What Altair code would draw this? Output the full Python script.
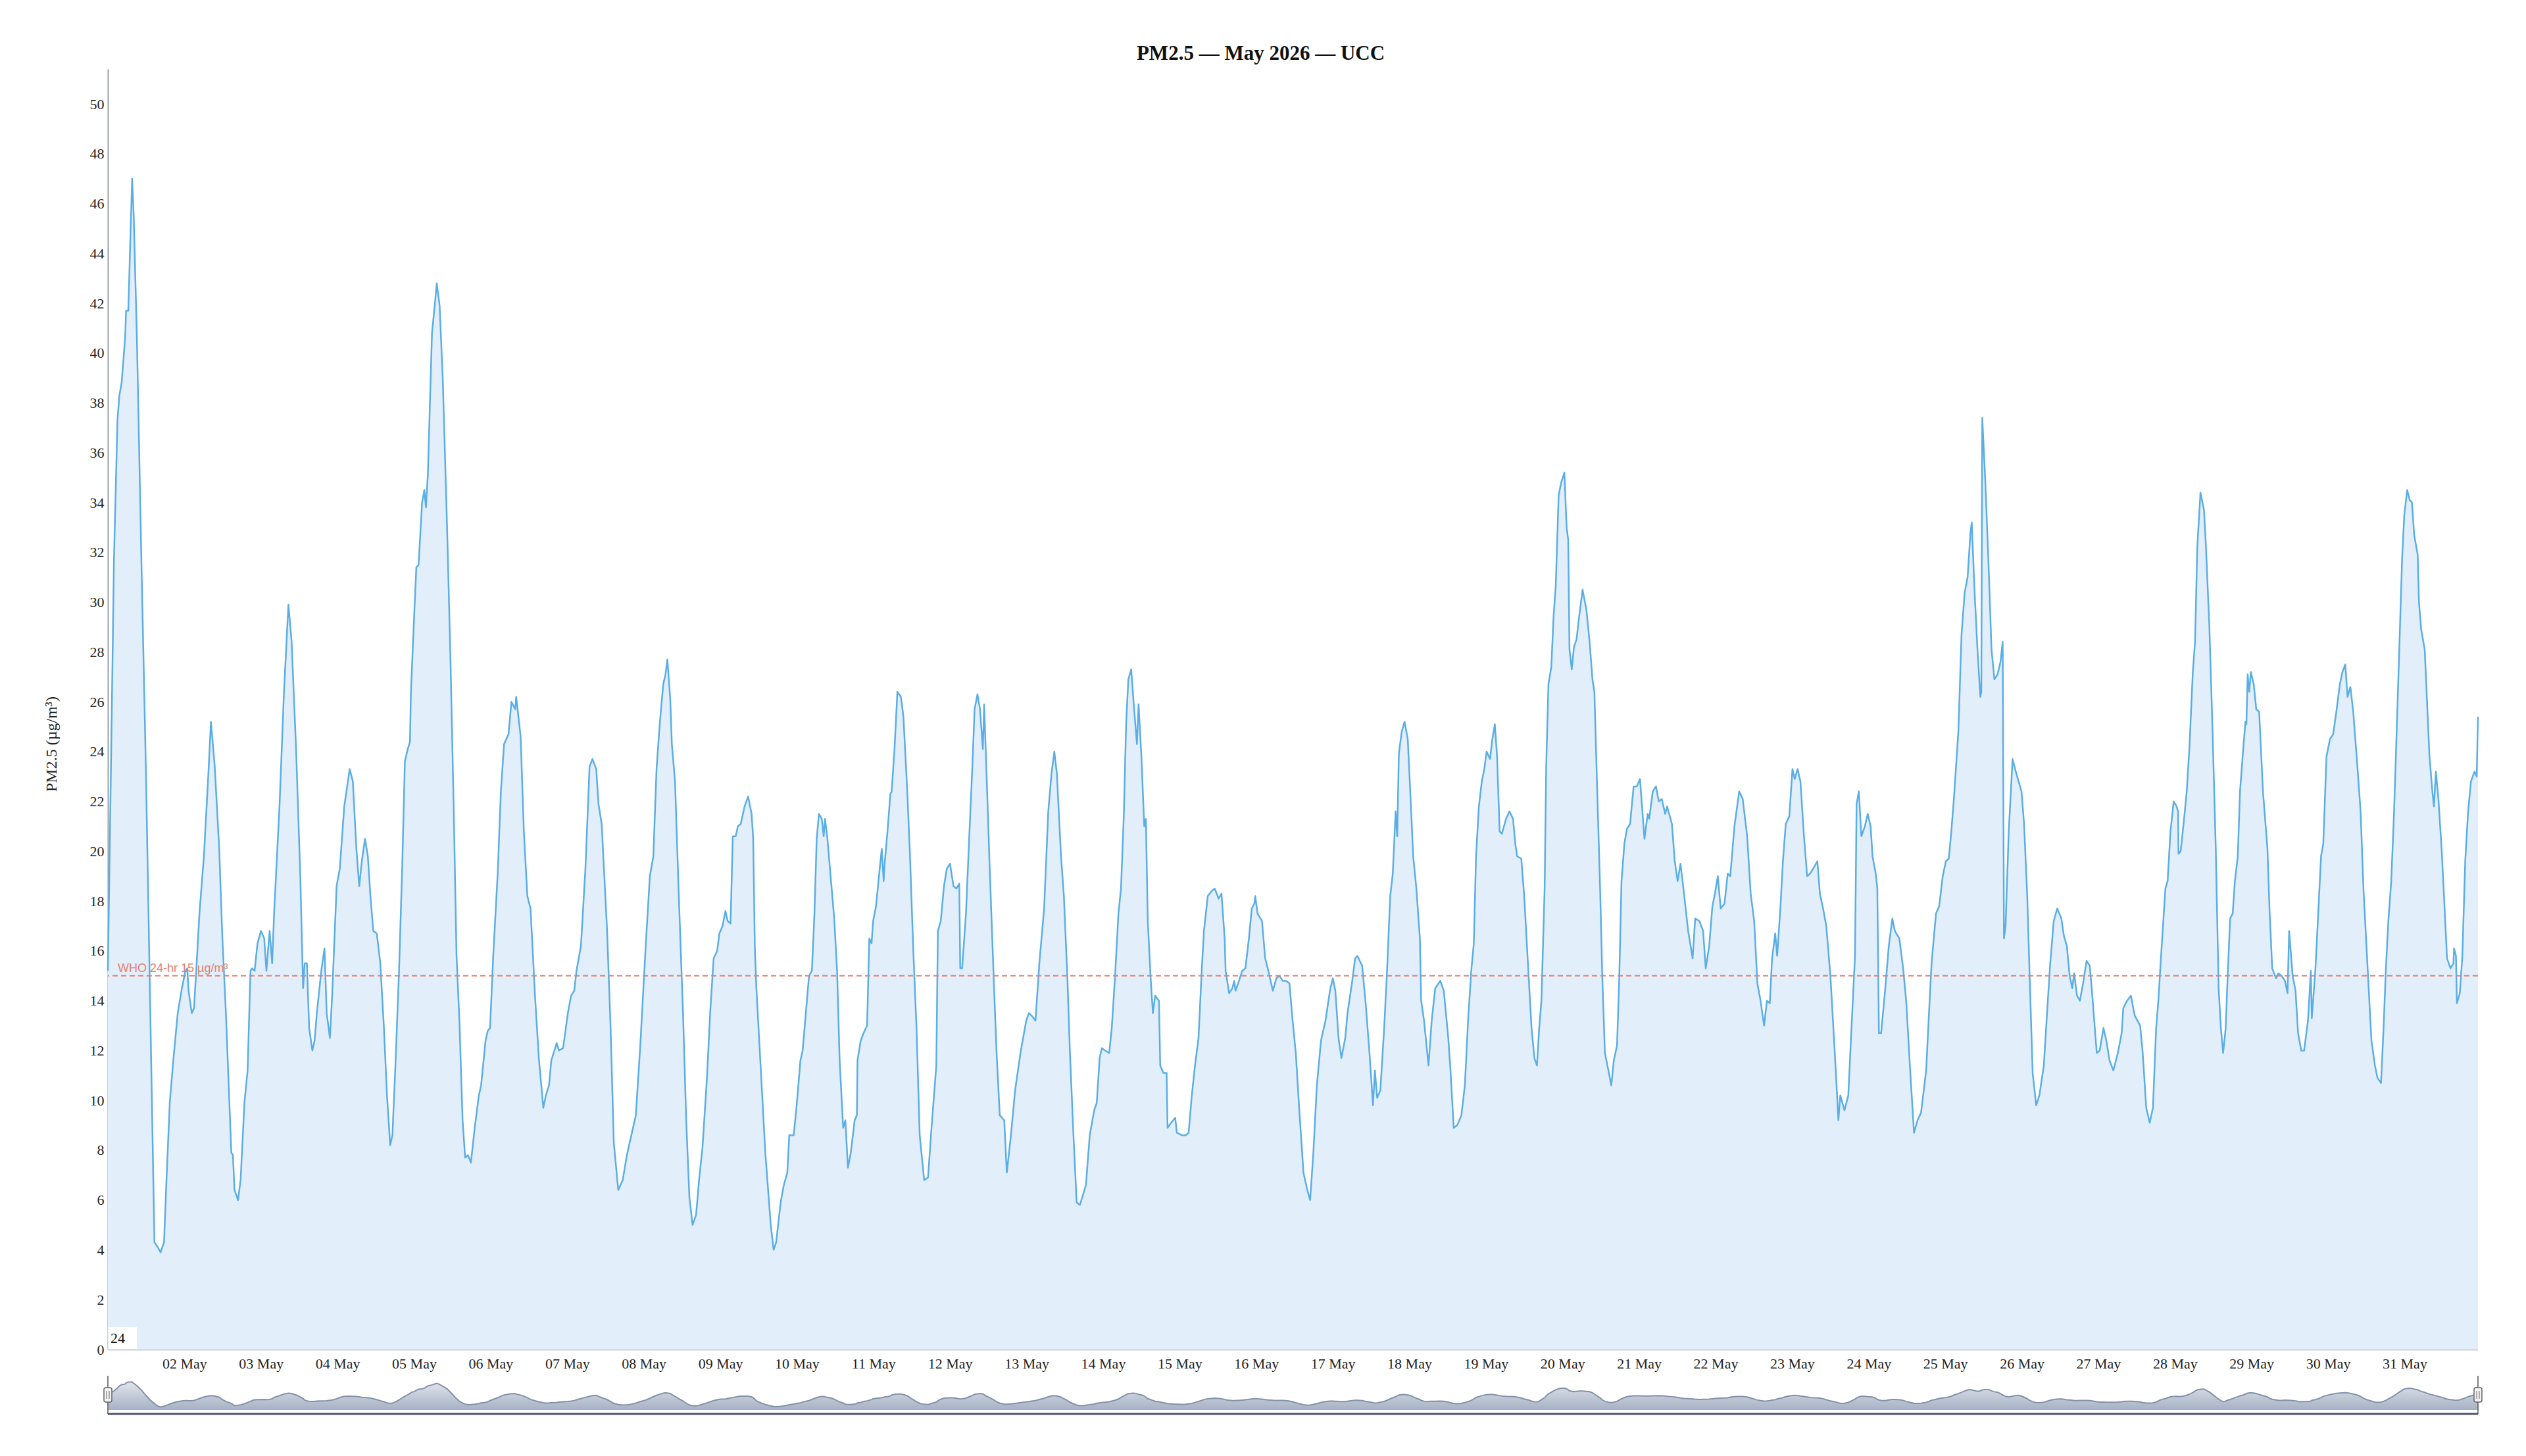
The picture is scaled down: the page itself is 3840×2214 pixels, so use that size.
import altair as alt
import pandas as pd

# ---- data: (hours since 01 May 00:00, PM2.5 µg/m³) ----
seg_may01_04 = [
    (0, 15.2), (1.2, 25.4), (1.9, 31.7), (3.0, 37.3), (3.6, 38.3), (4.3, 38.8), (5.4, 40.6), (5.7, 41.7),
    (6.4, 41.7), (7.6, 47.0), (8.1, 45.5), (9.1, 40.6), (10.5, 31.7), (11.9, 23.4), (13.3, 13.5), (14.6, 4.3),
    (15.7, 4.1), (16.5, 3.9), (17.6, 4.3), (18.4, 6.9), (19.4, 9.9), (20.5, 11.6), (21.9, 13.5), (23.2, 14.5),
    (24.3, 15.2), (24.9, 15.3), (25.3, 14.4), (26.3, 13.5), (27.0, 13.7), (27.7, 15.2), (28.7, 17.5), (30.1, 19.8),
    (31.5, 23.1), (32.3, 25.2), (33.5, 23.4), (34.9, 20.1), (35.9, 16.5), (37.0, 13.5), (38.7, 7.9), (39.2, 7.8),
    (39.7, 6.4), (40.8, 6.0), (41.6, 6.8), (42.8, 9.9), (43.8, 11.2), (44.7, 15.2), (45.2, 15.3), (46.0, 15.2),
    (46.9, 16.3), (48.0, 16.8), (49.0, 16.5), (49.7, 15.2), (50.7, 16.8), (51.5, 15.5), (52.1, 17.5), (53.8, 21.8),
    (55.2, 26.4), (56.6, 29.9), (57.6, 28.4), (59.0, 24.1), (60.3, 19.1), (61.2, 14.5), (61.7, 15.5), (62.4, 15.5),
    (63.1, 12.9), (64.1, 12.0), (64.8, 12.4), (65.5, 13.5), (66.9, 15.2), (67.9, 16.1), (68.6, 13.5), (69.6, 12.5),
    (70.3, 14.2), (71.7, 18.6), (72.7, 19.3), (74.1, 21.8), (75.8, 23.3), (76.8, 22.8), (77.9, 20.1), (78.8, 18.6),
    (79.6, 19.6), (80.6, 20.5), (81.5, 19.8), (82.3, 18.2), (83.2, 16.8), (84.3, 16.7), (85.4, 15.5), (86.5, 13.0),
    (87.5, 10.2), (88.5, 8.2), (89.2, 8.6), (90.2, 11.6), (91.3, 15.3), (92.3, 19.5), (93.1, 23.6),
]
seg_may05_08 = [
    (94.0, 24.1), (94.7, 24.4), (95.0, 26.4), (96.1, 29.7), (96.7, 31.4), (97.4, 31.5), (98.5, 34.0), (99.2, 34.5),
    (99.7, 33.8), (100.3, 35.1), (101.6, 40.8), (102.6, 42.1), (103.1, 42.8), (104.0, 41.9), (105.0, 38.9),
    (106.4, 32.7), (107.4, 27.7), (108.4, 21.8), (109.3, 15.8), (110.2, 13.2), (111.2, 9.2), (112.0, 7.7),
    (112.9, 7.8), (113.8, 7.5), (115.0, 8.9), (116.3, 10.2), (117.0, 10.6), (118.4, 12.4), (119.1, 12.8),
    (119.8, 12.9), (120.8, 15.8), (122.2, 19.1), (123.2, 22.4), (124.2, 24.3), (125.6, 24.7), (126.5, 26.0),
    (127.7, 25.7), (128.0, 26.2), (129.4, 24.6), (130.4, 20.8), (131.5, 18.2), (132.5, 17.7), (133.9, 14.2),
    (135.1, 11.7), (136.5, 9.7), (137.3, 10.2), (138.3, 10.6), (139.0, 11.6), (140.7, 12.3), (141.4, 12.0),
    (142.7, 12.1), (144.2, 13.5), (145.2, 14.2), (146.2, 14.4), (146.9, 15.2), (148.3, 16.2), (149.7, 19.3),
    (151.0, 23.4), (151.9, 23.7), (153.1, 23.3), (153.8, 21.9), (154.8, 21.1), (156.5, 16.8), (157.6, 12.9),
    (158.6, 8.3), (160.0, 6.4), (161.4, 6.8), (162.7, 7.8), (164.1, 8.6), (165.5, 9.4), (166.9, 12.2),
    (168.6, 16.2), (169.9, 19.0), (171.0, 19.8), (172.0, 23.3), (173.0, 25.1), (174.1, 26.7), (174.8, 27.1),
    (175.4, 27.7), (176.3, 26.1), (176.8, 24.3), (177.8, 22.8), (178.9, 18.5), (180.3, 13.5), (181.3, 9.2),
    (182.3, 6.1), (183.3, 5.0), (184.4, 5.4), (185.4, 6.9), (186.4, 8.1), (187.8, 10.9), (188.8, 13.5), (189.9, 15.7),
]
seg_may09_12 = [
    (191.0, 16.0), (191.7, 16.7), (192.7, 17.0), (193.6, 17.6), (194.3, 17.2), (195.2, 17.1), (195.9, 20.6),
    (196.8, 20.6), (197.5, 21.0), (198.4, 21.1), (199.6, 21.8), (200.7, 22.2), (201.8, 21.5), (202.3, 20.5),
    (202.8, 16.2), (203.3, 14.5), (204.7, 11.2), (206.1, 7.9), (207.8, 5.0), (208.7, 4.0), (209.5, 4.3),
    (210.9, 5.9), (211.9, 6.6), (213.0, 7.1), (213.6, 8.6), (215.0, 8.6), (216.0, 9.9), (217.1, 11.6),
    (217.8, 12.0), (218.8, 13.5), (219.8, 15.0), (220.7, 15.2), (221.5, 17.5), (222.2, 20.5), (222.9, 21.5),
    (223.8, 21.3), (224.4, 20.6), (224.8, 21.3), (225.5, 20.6), (226.7, 18.8), (227.7, 17.3), (228.6, 15.2),
    (229.4, 11.6), (230.5, 8.9), (231.2, 9.2), (231.4, 8.7), (232.0, 7.3), (232.9, 7.9), (234.1, 9.2),
    (234.8, 9.4), (235.0, 11.6), (236.0, 12.4), (236.9, 12.7), (238.0, 13.0), (238.7, 16.5), (239.4, 16.3),
    (239.9, 17.2), (240.8, 17.8), (241.8, 19.1), (242.6, 20.1), (243.2, 18.8), (243.5, 19.5), (244.4, 20.8),
    (245.3, 22.3), (245.7, 22.4), (246.6, 24.1), (247.5, 26.4), (248.6, 26.2), (249.4, 25.4), (250.6, 22.4),
    (251.4, 20.0), (252.5, 16.0), (253.5, 12.9), (254.5, 8.6), (255.9, 6.8), (257.1, 6.9), (258.2, 8.9),
    (259.7, 11.4), (260.2, 16.8), (261.1, 17.2), (262.1, 18.6), (263.0, 19.3), (264.0, 19.5), (265.1, 18.6),
    (266.0, 18.5), (266.9, 18.7), (267.2, 15.3), (267.8, 15.3), (269.0, 17.5), (270.0, 20.5), (271.0, 23.4),
    (271.7, 25.7), (272.6, 26.3), (273.4, 25.7), (274.3, 24.1), (274.7, 25.9), (275.4, 23.3), (276.5, 19.1),
    (277.7, 14.9), (278.6, 11.9), (279.6, 9.4), (281.0, 9.2), (281.8, 7.1), (283.1, 8.6), (284.4, 10.4), (286.2, 12.0),
]
seg_may13_16 = [
    (287.9, 13.2), (288.7, 13.5), (289.6, 13.4), (290.8, 13.2), (292.0, 15.5), (293.5, 17.7), (294.8, 21.6),
    (295.8, 23.1), (296.7, 24.0), (297.5, 23.1), (298.8, 19.8), (299.7, 18.2), (300.8, 14.9), (301.6, 11.9),
    (302.7, 8.6), (303.7, 5.9), (304.7, 5.8), (305.9, 6.3), (306.6, 6.6), (307.8, 8.6), (309.2, 9.6), (310.0, 9.9),
    (310.9, 11.7), (311.6, 12.1), (312.6, 12.0), (313.9, 11.9), (314.7, 12.9), (315.7, 14.9), (316.8, 17.5),
    (317.6, 18.5), (318.5, 21.5), (319.2, 25.1), (319.9, 26.9), (320.8, 27.3), (321.6, 25.9), (322.6, 24.3),
    (323.1, 25.9), (324.0, 23.8), (324.9, 21.0), (325.4, 21.3), (326.0, 17.2), (326.9, 14.9), (327.6, 13.5),
    (328.3, 14.2), (329.5, 14.0), (329.9, 11.4), (330.9, 11.1), (331.9, 11.1), (332.2, 8.9), (333.3, 9.1),
    (334.6, 9.3), (335.1, 8.7), (336.7, 8.6), (337.9, 8.6), (338.8, 8.7), (339.8, 10.2), (340.8, 11.4),
    (341.9, 12.5), (342.9, 15.2), (343.6, 16.8), (344.8, 18.2), (346.0, 18.4), (347.0, 18.5), (348.2, 18.1),
    (349.1, 18.3), (350.1, 16.5), (350.4, 15.2), (351.5, 14.3), (352.5, 14.5), (353.1, 14.8), (353.5, 14.4),
    (354.6, 14.8), (355.6, 15.2), (356.6, 15.3), (357.7, 16.5), (358.6, 17.7), (359.4, 17.9), (359.7, 18.2),
    (360.4, 17.5), (361.8, 17.2), (362.8, 15.7), (363.8, 15.2), (365.2, 14.4), (366.3, 14.9), (367.3, 15.0),
    (368.3, 14.8), (369.3, 14.8), (370.4, 14.7), (371.4, 13.2), (372.4, 11.9), (373.5, 9.6), (374.8, 7.1),
    (376.0, 6.4), (376.9, 6.0), (377.9, 7.9), (379.0, 10.6), (380.3, 12.4), (381.7, 13.2), (383.1, 14.4), (384.0, 14.9),
]
seg_may17_20 = [
    (384.8, 14.4), (385.8, 12.5), (386.7, 11.7), (387.9, 12.5), (388.6, 13.5), (390.0, 14.7), (391.0, 15.7),
    (391.7, 15.8), (393.2, 15.4), (394.3, 13.9), (395.5, 11.9), (396.6, 9.8), (397.2, 11.2), (397.9, 10.1),
    (398.9, 10.4), (400.1, 12.9), (401.0, 15.2), (402.0, 18.2), (402.8, 19.1), (403.7, 21.6), (404.2, 20.6),
    (404.7, 23.9), (405.6, 24.8), (406.5, 25.2), (407.5, 24.5), (408.5, 21.8), (409.2, 19.8), (410.2, 18.5),
    (411.3, 16.5), (411.7, 14.0), (412.6, 13.2), (414.0, 11.4), (415.0, 13.2), (416.1, 14.5), (417.7, 14.8),
    (418.8, 14.4), (420.2, 12.5), (420.9, 11.2), (421.9, 8.9), (423.0, 9.0), (424.3, 9.4), (425.4, 10.6),
    (426.4, 13.2), (427.4, 15.2), (428.2, 16.3), (428.9, 19.8), (429.8, 21.8), (430.7, 22.8), (431.5, 23.3),
    (432.2, 24.0), (433.3, 23.7), (433.9, 24.4), (434.8, 25.1), (435.5, 23.8), (436.3, 20.8), (437.0, 20.7),
    (438.3, 21.3), (439.4, 21.6), (440.5, 21.3), (441.2, 20.3), (441.8, 19.8), (443.1, 19.7), (444.0, 18.2),
    (445.3, 15.2), (446.3, 12.9), (447.2, 11.7), (448.0, 11.4), (448.7, 12.9), (449.4, 14.0), (450.4, 18.5),
    (450.9, 23.4), (451.6, 26.7), (452.5, 27.4), (453.2, 29.4), (453.9, 30.7), (454.8, 34.3), (455.6, 34.8),
    (456.6, 35.2), (457.3, 33.0), (457.8, 32.5), (458.2, 28.1), (458.9, 27.3), (459.6, 28.2), (460.4, 28.5),
    (461.2, 29.4), (462.3, 30.5), (463.5, 29.7), (464.5, 28.4), (465.4, 26.9), (466.0, 26.4), (466.9, 22.4),
    (467.8, 18.5), (468.5, 14.9), (469.3, 11.9), (470.4, 11.2), (471.3, 10.6), (472.1, 11.6), (473.1, 12.2),
    (473.8, 14.9), (474.5, 18.8), (475.4, 20.3), (476.2, 20.9), (477.2, 21.1), (478.3, 22.6), (479.3, 22.6), (480.3, 22.9),
]
seg_may21_24 = [
    (481.7, 20.5), (482.7, 21.5), (483.2, 21.3), (484.3, 22.4), (485.3, 22.6), (486.2, 22.0), (487.1, 22.1),
    (488.2, 21.5), (488.8, 21.8), (490.3, 21.1), (491.2, 19.6), (492.1, 18.8), (493.0, 19.5), (494.1, 18.3),
    (495.4, 16.8), (496.8, 15.7), (497.6, 17.3), (498.9, 17.2), (500.1, 16.8), (500.9, 15.3), (502.0, 16.2),
    (503.0, 17.8), (503.8, 18.3), (504.7, 19.0), (505.6, 17.7), (506.8, 17.9), (507.8, 19.1), (508.6, 19.0),
    (509.9, 21.0), (511.4, 22.4), (512.5, 22.1), (513.9, 20.6), (515.0, 18.3), (516.1, 17.2), (517.1, 14.7),
    (518.1, 14.0), (519.2, 13.0), (520.1, 14.0), (521.0, 13.9), (521.7, 15.7), (522.7, 16.7), (523.3, 15.8),
    (524.3, 17.7), (525.1, 19.6), (526.0, 21.1), (527.1, 21.4), (528.1, 23.3), (528.8, 22.9), (529.7, 23.3),
    (530.6, 22.8), (531.7, 20.6), (532.7, 19.0), (533.6, 19.1), (534.6, 19.3), (535.9, 19.6), (536.7, 18.3),
    (537.7, 17.7), (538.7, 17.0), (540.0, 15.0), (541.5, 11.6), (542.5, 9.2), (543.1, 10.2), (544.4, 9.6),
    (545.6, 10.2), (546.6, 12.9), (547.7, 15.8), (548.2, 21.9), (548.9, 22.4), (549.7, 20.6), (550.8, 21.0),
    (551.7, 21.5), (552.6, 21.0), (553.2, 19.8), (554.2, 19.1), (554.7, 18.5), (555.2, 12.7), (555.9, 12.7),
    (557.2, 14.5), (558.3, 16.2), (559.4, 17.3), (560.2, 16.8), (561.6, 16.5), (562.8, 15.3), (563.8, 13.9),
    (565.0, 11.2), (566.2, 8.7), (567.3, 9.2), (568.4, 9.5), (570.0, 11.2), (570.9, 13.5), (571.7, 15.5),
    (573.1, 17.5), (574.1, 17.8), (575.2, 19.0), (576.2, 19.6), (577.1, 19.7), (577.9, 20.8),
]
seg_may25_28 = [
    (578.7, 22.1), (580.1, 24.8), (581.1, 28.7), (582.1, 30.4), (583.0, 31.0), (583.9, 32.8), (584.3, 33.2),
    (585.2, 30.4), (586.1, 28.1), (587.0, 26.2), (587.3, 26.4), (587.6, 37.4), (588.5, 35.0), (589.6, 31.4),
    (590.5, 28.1), (591.4, 26.9), (592.4, 27.1), (593.3, 27.6), (594.0, 28.4), (594.4, 16.5), (594.9, 17.0),
    (595.9, 20.8), (597.1, 23.7), (598.1, 23.2), (599.0, 22.8), (599.9, 22.4), (600.7, 21.1), (601.7, 18.2),
    (602.4, 15.2), (603.4, 11.1), (604.5, 9.8), (605.5, 10.2), (606.9, 11.4), (607.9, 13.5), (608.9, 15.5),
    (610.0, 17.2), (611.1, 17.7), (612.4, 17.3), (613.2, 16.6), (614.1, 16.2), (615.0, 15.0), (615.8, 14.5),
    (616.4, 15.1), (617.3, 14.2), (618.2, 14.0), (619.2, 14.7), (620.3, 15.6), (621.3, 15.4), (622.1, 14.2),
    (623.0, 12.7), (623.5, 11.9), (624.4, 12.0), (625.6, 12.9), (626.5, 12.4), (627.5, 11.6), (628.7, 11.2),
    (630.1, 11.9), (631.3, 12.7), (631.8, 13.7), (633.0, 14.0), (634.2, 14.2), (635.4, 13.4), (637.1, 13.0),
    (637.9, 11.9), (639.0, 9.7), (640.1, 9.1), (641.1, 9.7), (642.1, 12.9), (642.8, 14.0), (643.6, 15.7),
    (645.0, 18.5), (645.7, 18.8), (646.6, 20.8), (647.6, 22.0), (648.5, 21.8), (649.0, 21.6), (649.1, 19.9),
    (649.8, 20.0), (650.7, 21.1), (651.7, 22.4), (652.6, 24.3), (653.6, 27.2), (654.3, 28.4), (655.0, 32.2),
    (656.0, 34.4), (657.1, 33.7), (657.7, 32.3), (658.8, 29.0), (659.8, 24.8), (660.8, 20.1), (661.7, 14.5),
    (662.4, 12.9), (663.1, 11.9), (663.6, 12.5), (663.9, 12.9), (664.5, 14.9), (665.3, 17.3), (666.1, 17.5),
    (666.8, 18.8), (667.7, 19.8), (668.4, 22.4), (669.4, 24.1), (670.1, 25.2), (670.4, 25.1), (670.8, 27.1),
    (671.3, 26.4), (671.8, 27.2), (672.7, 26.7), (673.5, 25.7), (674.4, 25.6),
]
seg_may29_31 = [
    (675.6, 22.4), (677.0, 20.1), (677.7, 17.5), (678.5, 15.3), (679.7, 14.9), (680.4, 15.1), (681.4, 15.0),
    (682.5, 14.8), (683.3, 14.3), (683.8, 16.8), (684.9, 15.0), (685.8, 14.4), (686.6, 12.7), (687.6, 12.0),
    (688.5, 12.0), (689.7, 13.2), (690.6, 15.2), (690.9, 13.3), (692.0, 15.2), (692.8, 17.2), (693.8, 19.8),
    (694.5, 20.3), (695.5, 23.8), (696.6, 24.5), (697.6, 24.7), (698.6, 25.6), (699.7, 26.7), (700.5, 27.2),
    (701.4, 27.5), (702.1, 26.2), (703.0, 26.6), (703.9, 25.6), (705.2, 23.4), (706.2, 21.6), (707.1, 18.5),
    (708.2, 15.8), (709.6, 12.4), (710.7, 11.4), (711.5, 10.9), (712.6, 10.7), (713.4, 12.9), (714.1, 15.2),
    (714.9, 17.2), (715.8, 18.8), (716.7, 21.6), (717.5, 24.8), (718.4, 28.4), (719.2, 31.7), (719.9, 33.5),
    (720.8, 34.5), (721.6, 34.1), (722.3, 34.0), (723.0, 32.7), (724.1, 31.9), (724.5, 30.0), (725.2, 28.9),
    (726.3, 28.1), (727.0, 26.1), (727.8, 23.8), (728.7, 22.4), (729.2, 21.8), (729.8, 23.2), (730.6, 22.1),
    (731.6, 20.1), (732.5, 17.8), (733.3, 15.7), (734.4, 15.3), (735.3, 15.5), (735.5, 16.1), (736.1, 15.8),
    (736.4, 13.9), (737.3, 14.3), (738.1, 15.8), (739.0, 19.6), (739.9, 21.6), (740.8, 22.8), (741.9, 23.2),
    (742.6, 23.0), (743.0, 25.4),
]

y_ticks = list(range(0, 51, 2))
label_days = list(range(2, 32))
who_limit = 15
title_text = "PM2.5 — May 2026 — UCC"
y_title = "PM2.5 (µg/m³)"
who_text = "WHO 24-hr 15 µg/m³"

# ---- table ----
segments = [seg_may01_04, seg_may05_08, seg_may09_12, seg_may13_16,
            seg_may17_20, seg_may21_24, seg_may25_28, seg_may29_31]
pairs = [p for s in segments for p in s]
base = pd.Timestamp("2026-05-01 00:00:00")
df = pd.DataFrame({
    "time": [(base + pd.Timedelta(hours=h)).strftime("%Y-%m-%dT%H:%M:%S") for h, _ in pairs],
    "pm": [v for _, v in pairs],
})

W, H = 3603, 1947
SERIF = "Liberation Serif"
SANS = "Liberation Sans"
LINE = "#5aaee6"
FILL = "#e2eefa"
WHO = "#e8806c"

x_enc = alt.X(
    "time:T",
    scale=alt.Scale(domain=[alt.DateTime(year=2026, month=5, date=1, hours=0),
                            alt.DateTime(year=2026, month=5, date=31, hours=23)], nice=False),
    axis=alt.Axis(values=[alt.DateTime(year=2026, month=5, date=d) for d in label_days],
                  format="%d May", title=None, ticks=False, tickSize=0, grid=False,
                  labelPadding=11, labelFont=SERIF, labelFontSize=22, labelColor="#222",
                  domainColor="#c3ccda", domainWidth=2, labelFlush=False, labelOverlap=False),
)
y_enc = alt.Y(
    "pm:Q",
    scale=alt.Scale(domain=[0, 51.4], nice=False, zero=True),
    axis=alt.Axis(values=y_ticks, title=y_title, ticks=False, tickSize=0, grid=False,
                  labelPadding=6, labelFont=SERIF, labelFontSize=22, labelColor="#222",
                  domainColor="#9aa0a8", domainWidth=2, labelOverlap=False, labelFlush=False,
                  titleFont=SERIF, titleFontSize=24, titleFontWeight="normal", titleColor="#222",
                  titleAngle=270, titleX=-86, titleY=1026, titleAlign="center",
                  titleBaseline="middle"),
)

data_chart = alt.Chart(df)
area = data_chart.mark_area(color=FILL, opacity=1).encode(x=x_enc, y=y_enc)
line = data_chart.mark_line(color=LINE, strokeWidth=2.5, strokeJoin="round").encode(
    x="time:T", y="pm:Q")

one = pd.DataFrame({"k": [0]})
who_rule = alt.Chart(one).mark_rule(color=WHO, strokeDash=[8, 5], strokeWidth=2).encode(
    y=alt.datum(who_limit))
who_label = alt.Chart(one).mark_text(
    text=who_text, font=SANS, fontSize=18, color=WHO, align="left", baseline="alphabetic"
).encode(x=alt.value(15), y=alt.value(1373))
box24 = alt.Chart(one).mark_rect(color="white").encode(
    x=alt.value(1), x2=alt.value(44), y=alt.value(1913), y2=alt.value(1946))
text24 = alt.Chart(one).mark_text(
    text="24", font=SERIF, fontSize=22, color="#111", align="left", baseline="alphabetic"
).encode(x=alt.value(4), y=alt.value(1937))

main = alt.layer(area, line, who_rule, who_label, box24, text24)

# ---- navigator ----
nav_base = alt.Chart(df).transform_window(
    nav="mean(pm)", frame=[-2, 2], sort=[alt.SortField("time")])
nav_y = alt.Y("nav:Q", scale=alt.Scale(domain=[0, 47], range=[2039, 1993], nice=False, zero=False),
              axis=None)
nav_area = nav_base.mark_area(
    color=alt.Gradient(gradient="linear",
                       stops=[alt.GradientStop(color="#e1e5ec", offset=0),
                              alt.GradientStop(color="#a6b1c4", offset=1)],
                       x1=0, x2=0, y1=0, y2=1)
).encode(x="time:T", y=nav_y, y2=alt.value(2045))
nav_line = nav_base.mark_line(color="#8391aa", strokeWidth=2).encode(x="time:T", y=nav_y)
nav_bottom = alt.Chart(one).mark_rule(color="#4f5561", strokeWidth=3).encode(
    x=alt.value(0), x2=alt.value(W), y=alt.value(2045))
nav_left = alt.Chart(one).mark_rule(color="#555", strokeWidth=1.5).encode(
    x=alt.value(0), y=alt.value(1987), y2=alt.value(2045))
nav_right = alt.Chart(one).mark_rule(color="#555", strokeWidth=1.5).encode(
    x=alt.value(W), y=alt.value(1987), y2=alt.value(2045))


def handle(cx):
    body = alt.Chart(one).mark_rect(color="#f2f2f2", stroke="#666", strokeWidth=1.5,
                                    cornerRadius=3).encode(
        x=alt.value(cx - 6), x2=alt.value(cx + 6), y=alt.value(2005), y2=alt.value(2027))
    g1 = alt.Chart(one).mark_rule(color="#666", strokeWidth=1).encode(
        x=alt.value(cx - 2), y=alt.value(2010), y2=alt.value(2022))
    g2 = alt.Chart(one).mark_rule(color="#666", strokeWidth=1).encode(
        x=alt.value(cx + 2), y=alt.value(2010), y2=alt.value(2022))
    return [body, g1, g2]


nav = alt.layer(nav_area, nav_line, nav_bottom, nav_left, nav_right, *handle(0), *handle(W))

chart = alt.layer(main, nav).resolve_scale(y="independent").properties(
    width=W, height=H,
    title=alt.TitleParams(title_text, font=SERIF, fontSize=31, fontWeight="bold", color="#111",
                          anchor="middle", dx=-49, offset=7),
    autosize=alt.AutoSizeParams(type="none"),
    padding={"left": 156, "top": 97, "right": 60, "bottom": 140},
).configure(background="white", view=alt.ViewConfig(stroke=None))

chart.save("out.html", embed_options={"renderer": "svg", "actions": False})
